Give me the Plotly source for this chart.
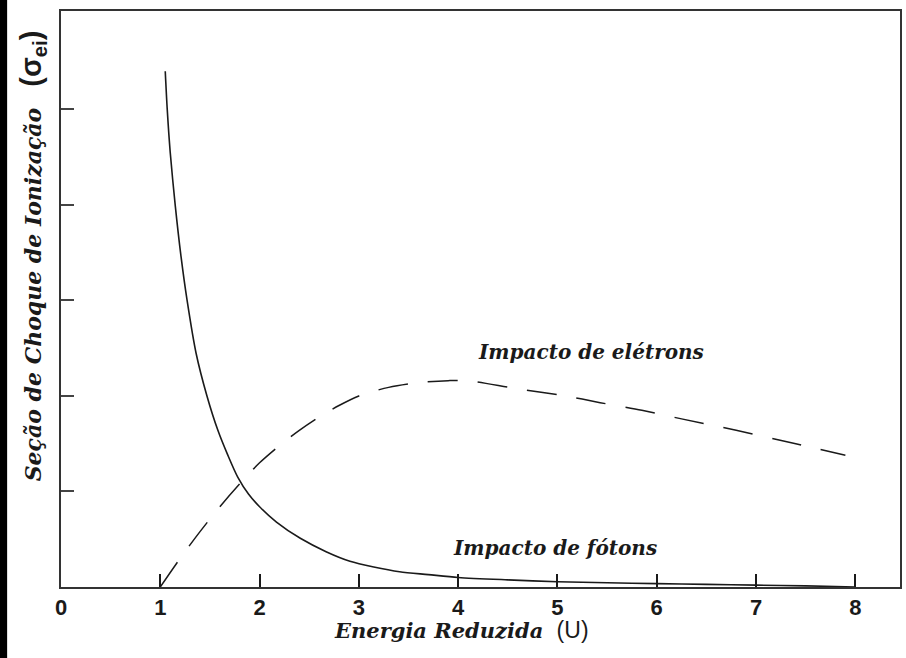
import plotly.graph_objects as go

# ---- data ----
photon_x = [1.05, 1.07, 1.10, 1.15, 1.21, 1.27, 1.36, 1.47, 1.58, 1.68, 1.78, 1.89, 2.00, 2.17, 2.41, 2.67, 2.91, 3.15, 3.41, 3.70, 4.00, 4.50, 5.00, 5.50, 6.00, 6.50, 7.00, 7.50, 8.00]
photon_y = [5.40, 5.00, 4.55, 4.00, 3.45, 3.00, 2.45, 2.00, 1.64, 1.38, 1.15, 0.97, 0.84, 0.68, 0.51, 0.37, 0.27, 0.21, 0.16, 0.13, 0.10, 0.075, 0.055, 0.045, 0.035, 0.027, 0.02, 0.012, 0.00]

electron_x = [1.00, 1.20, 1.40, 1.60, 1.80, 2.00, 2.20, 2.40, 2.60, 2.80, 3.00, 3.30, 3.60, 3.90, 4.10, 4.57, 5.08, 5.43, 5.85, 6.25, 6.80, 7.40, 7.90]
electron_y = [0.00, 0.30, 0.58, 0.84, 1.08, 1.30, 1.48, 1.64, 1.78, 1.90, 2.00, 2.09, 2.14, 2.16, 2.16, 2.08, 2.00, 1.93, 1.85, 1.76, 1.64, 1.50, 1.38]

x_ticks = [0, 1, 2, 3, 4, 5, 6, 7, 8]
x_tick_labels = ["0", "1", "2", "3", "4", "5", "6", "7", "8"]
y_ticks = [1, 2, 3, 4, 5]

label_electron = "Impacto de elétrons"
label_photon = "Impacto de fótons"
x_title = "Energia Reduzida"
x_unit = "(U)"
y_title = "Seção de Choque de Ionização"

SERIF = "DejaVu Serif"
SANS = "Liberation Sans"
INK = "#1a1a1a"

fig = go.Figure()
fig.add_trace(go.Scatter(x=photon_x, y=photon_y, mode="lines",
                         line=dict(color=INK, width=1.6, shape="spline", smoothing=0.8),
                         showlegend=False, hoverinfo="skip"))
fig.add_trace(go.Scatter(x=electron_x, y=electron_y, mode="lines",
                         line=dict(color=INK, width=1.5, dash="30px,20px", shape="spline", smoothing=0.8),
                         showlegend=False, hoverinfo="skip"))

fig.add_annotation(x=5.34, y=2.46, xref="x", yref="y", text="<b><i>%s</i></b>" % label_electron,
                   showarrow=False, xanchor="center", yanchor="middle",
                   font=dict(family=SERIF, size=20, color=INK))
fig.add_annotation(x=4.98, y=0.41, xref="x", yref="y", text="<b><i>%s</i></b>" % label_photon,
                   showarrow=False, xanchor="center", yanchor="middle",
                   font=dict(family=SERIF, size=20, color=INK))

# axis titles as annotations
fig.add_annotation(x=0.477, y=-0.075, xref="paper", yref="paper", xanchor="center", yanchor="middle",
                   text="<b><i>%s</i></b>&nbsp;&nbsp;<span style='font-family:%s;font-size:23px'>%s</span>" % (x_title, SANS, x_unit),
                   showarrow=False, font=dict(family=SERIF, size=21, color=INK))
fig.add_annotation(x=-0.034, y=0.575, xref="paper", yref="paper", textangle=-90,
                   xanchor="center", yanchor="middle",
                   text="<b><i>%s</i></b>&nbsp;&nbsp;&nbsp;<span style='font-family:%s;font-size:29px'><b>(σ<sub>ei</sub>)</b></span>" % (y_title, SANS),
                   showarrow=False, font=dict(family=SERIF, size=22, color=INK))

# black strip at the left edge
fig.add_shape(type="rect", xref="paper", yref="paper", x0=-0.0740, x1=-0.0642, y0=-0.14, y1=1.04,
              fillcolor="black", line=dict(width=0), layer="above")

fig.update_xaxes(range=[0, 8.45], tickvals=x_ticks, ticktext=x_tick_labels,
                 ticks="inside", ticklen=13, tickwidth=2, tickcolor=INK,
                 showline=True, linecolor="#333333", linewidth=2, mirror=True,
                 showgrid=False, zeroline=False,
                 tickfont=dict(family=SANS, size=22, color=INK, weight="bold"))
fig.update_yaxes(range=[0, 6.03], tickvals=y_ticks, showticklabels=False,
                 ticks="inside", ticklen=13, tickwidth=1.5, tickcolor="#444444",
                 showline=True, linecolor="#333333", linewidth=2, mirror=True,
                 showgrid=False, zeroline=False)

fig.update_layout(width=906, height=658, margin=dict(l=61, r=4, t=11, b=71),
                  paper_bgcolor="white", plot_bgcolor="white")

fig.write_html("out.html")
